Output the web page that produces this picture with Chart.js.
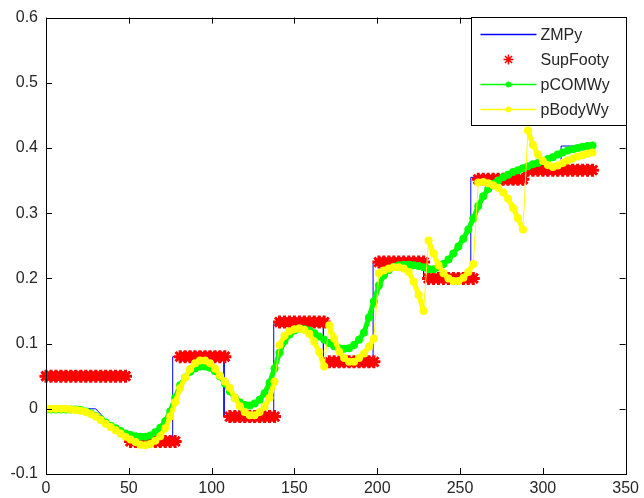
<!DOCTYPE html>
<html>
<head>
<meta charset="utf-8">
<title>ZMP / CoM</title>
<script src="https://cdn.jsdelivr.net/npm/chart.js@4.4.1/dist/chart.umd.min.js"></script>
<style>
  body { margin: 0; background: #fff; }
  #wrap { width: 644px; height: 498px; }
</style>
</head>
<body>
<div id="wrap"><canvas id="myChart" width="644" height="498"></canvas></div>
<script>
// sample index (x axis)
const steps = [
  0, 3, 6, 9, 12, 15, 18, 21, 24, 27, 30, 33, 36, 39, 42, 45, 48,
  51, 54, 57, 60, 63, 66, 69, 72, 75, 78,
  81, 84, 87, 90, 93, 96, 99, 102, 105, 108,
  111, 114, 117, 120, 123, 126, 129, 132, 135, 138,
  141, 144, 147, 150, 153, 156, 159, 162, 165, 168,
  171, 174, 177, 180, 183, 186, 189, 192, 195, 198,
  201, 204, 207, 210, 213, 216, 219, 222, 225, 228,
  231, 234, 237, 240, 243, 246, 249, 252, 255, 258,
  261, 264, 267, 270, 273, 276, 279, 282, 285, 288,
  291, 294, 297, 300, 303, 306, 309, 312, 315, 318, 321, 324, 327, 330
];

// support foot y position
const supFooty = [
  0.05, 0.05, 0.05, 0.05, 0.05, 0.05, 0.05, 0.05, 0.05, 0.05, 0.05, 0.05, 0.05, 0.05, 0.05, 0.05, 0.05,
  -0.05, -0.05, -0.05, -0.05, -0.05, -0.05, -0.05, -0.05, -0.05, -0.05,
  0.08, 0.08, 0.08, 0.08, 0.08, 0.08, 0.08, 0.08, 0.08, 0.08,
  -0.012, -0.012, -0.012, -0.012, -0.012, -0.012, -0.012, -0.012, -0.012, -0.012,
  0.133, 0.133, 0.133, 0.133, 0.133, 0.133, 0.133, 0.133, 0.133, 0.133,
  0.072, 0.072, 0.072, 0.072, 0.072, 0.072, 0.072, 0.072, 0.072, 0.072,
  0.225, 0.225, 0.225, 0.225, 0.225, 0.225, 0.225, 0.225, 0.225, 0.225,
  0.2, 0.2, 0.2, 0.2, 0.2, 0.2, 0.2, 0.2, 0.2, 0.2,
  0.352, 0.352, 0.352, 0.352, 0.352, 0.352, 0.352, 0.352, 0.352, 0.352,
  0.366, 0.366, 0.366, 0.366, 0.366, 0.366, 0.366, 0.366, 0.366, 0.366, 0.366, 0.366, 0.366, 0.366
];

const pCOMWy = [
  -0.001, -0.001, -0.001, -0.001, -0.001, -0.001, -0.001, -0.002, -0.004, -0.007, -0.011, -0.016, -0.021, -0.026, -0.030, -0.034, -0.038,
  -0.040, -0.042, -0.043, -0.043, -0.041, -0.036, -0.029, -0.019, -0.004, 0.017,
  0.036, 0.048, 0.057, 0.062, 0.065, 0.065, 0.063, 0.058, 0.050, 0.039,
  0.027, 0.017, 0.010, 0.006, 0.005, 0.008, 0.014, 0.024, 0.040, 0.062,
  0.086, 0.104, 0.114, 0.120, 0.123, 0.122, 0.120, 0.116, 0.111, 0.106,
  0.101, 0.096, 0.093, 0.092, 0.093, 0.098, 0.106, 0.117, 0.140, 0.165,
  0.189, 0.205, 0.213, 0.218, 0.220, 0.221, 0.221, 0.220, 0.219, 0.217,
  0.214, 0.214, 0.217, 0.222, 0.229, 0.238, 0.249, 0.261, 0.275, 0.292,
  0.311, 0.326, 0.337, 0.345, 0.350, 0.355, 0.359, 0.363, 0.366, 0.369,
  0.372, 0.375, 0.377, 0.380, 0.383, 0.386, 0.390, 0.393, 0.396, 0.398, 0.400, 0.402, 0.403, 0.404
];

const pBodyWy = [
  0.000, 0.000, 0.000, 0.000, 0.000, -0.001, -0.002, -0.003, -0.005, -0.008, -0.012, -0.017, -0.023, -0.028, -0.033, -0.038, -0.043,
  -0.047, -0.051, -0.055, -0.056, -0.054, -0.049, -0.042, -0.030, -0.012, 0.010,
  0.032, 0.048, 0.061, 0.070, 0.074, 0.074, 0.070, 0.062, 0.051, 0.042,
  0.032, 0.017, 0.004, -0.005, -0.010, -0.010, -0.005, 0.003, 0.017, 0.042,
  0.098, 0.112, 0.119, 0.122, 0.123, 0.121, 0.115, 0.103, 0.087, 0.065,
  0.128, 0.108, 0.088, 0.078, 0.072, 0.072, 0.078, 0.085, 0.095, 0.108,
  0.208, 0.212, 0.215, 0.217, 0.217, 0.215, 0.210, 0.195, 0.175, 0.150,
  0.258, 0.238, 0.220, 0.208, 0.200, 0.196, 0.196, 0.201, 0.210, 0.222,
  0.347, 0.348, 0.346, 0.343, 0.339, 0.332, 0.322, 0.308, 0.292, 0.275,
  0.427, 0.405, 0.390, 0.380, 0.374, 0.371, 0.373, 0.377, 0.381, 0.384, 0.387, 0.389, 0.391, 0.393
];

// ZMP reference (step corners)
const zmpX = [0, 30, 33, 36, 40, 45, 50, 55, 60, 70, 76.5, 76.5, 107.5, 107.5, 137.5, 137.5, 167.5, 167.5,
  197.5, 197.5, 228, 228, 256.5, 256.5, 288.5, 288.5, 311, 311, 330];
const zmpY = [0, 0, -0.008, -0.017, -0.025, -0.033, -0.039, -0.044, -0.046, -0.047, -0.047, 0.08, 0.08, -0.012,
  -0.012, 0.13, 0.13, 0.072, 0.072, 0.224, 0.224, 0.2, 0.2, 0.355, 0.355, 0.365, 0.365, 0.403, 0.403];

const xTicks = [0, 50, 100, 150, 200, 250, 300, 350];
const yTicks = [-0.1, 0, 0.1, 0.2, 0.3, 0.4, 0.5, 0.6];

const FONT = "'Liberation Sans', Arial, sans-serif";
const TEXT = '#262626';

function pairs(xs, ys) {
  return ys.map((y, i) => ({ x: xs[i], y: y }));
}

// dense marker band, but jumps between samples stay a thin line
function bandWidth(c) {
  return Math.abs(c.p1.parsed.y - c.p0.parsed.y) > 0.04 ? 1 : 5;
}

// box, inward ticks and legend like the matlab figure
const matlabAxes = {
  id: 'matlabAxes',
  afterDraw(chart) {
    const ctx = chart.ctx;
    const a = chart.chartArea;
    const xs = chart.scales.x;
    const ys = chart.scales.y;
    ctx.save();
    ctx.strokeStyle = '#000';
    ctx.lineWidth = 1;
    ctx.beginPath();
    xTicks.forEach(v => {
      const px = Math.round(xs.getPixelForValue(v)) + 0.5;
      ctx.moveTo(px, a.bottom); ctx.lineTo(px, a.bottom - 6);
      ctx.moveTo(px, a.top); ctx.lineTo(px, a.top + 6);
    });
    yTicks.forEach(v => {
      const py = Math.round(ys.getPixelForValue(v)) + 0.5;
      ctx.moveTo(a.left, py); ctx.lineTo(a.left + 6, py);
      ctx.moveTo(a.right, py); ctx.lineTo(a.right - 6, py);
    });
    ctx.stroke();
    ctx.strokeRect(Math.round(a.left) + 0.5, Math.round(a.top) + 0.5,
      Math.round(a.right - a.left), Math.round(a.bottom - a.top));

    // legend
    const bw = 155, bh = 108;
    const bx = Math.round(a.right) - bw + 0.5, by = Math.round(a.top) - 0.5;
    ctx.fillStyle = '#fff';
    ctx.fillRect(bx, by, bw, bh);
    ctx.strokeRect(bx, by, bw, bh);
    ctx.font = '16px ' + FONT;
    ctx.textBaseline = 'middle';
    chart.data.datasets.forEach((ds, i) => {
      const cy = by + 17 + i * 25;
      const x0 = bx + 9, x1 = bx + 65, xm = (x0 + x1) / 2;
      ctx.strokeStyle = ds.borderColor;
      ctx.fillStyle = ds.borderColor;
      if (ds.showLine !== false) {
        ctx.lineWidth = 1.5;
        ctx.beginPath();
        ctx.moveTo(x0, cy); ctx.lineTo(x1, cy);
        ctx.stroke();
      }
      if (ds.pointRadius > 0) {
        ctx.lineWidth = ds.pointStyle === 'star' ? 1.5 : 1;
        Chart.helpers.drawPoint(ctx, {
          pointStyle: ds.pointStyle,
          radius: ds.pointStyle === 'star' ? 5 : 2.5,
          borderWidth: ctx.lineWidth,
          rotation: 0
        }, xm, cy);
      }
      ctx.fillStyle = TEXT;
      ctx.fillText(ds.label, bx + 69, cy + 1);
    });
    ctx.restore();
  }
};

const ctx = document.getElementById('myChart').getContext('2d');
new Chart(ctx, {
  type: 'scatter',
  data: {
    datasets: [
      {
        label: 'ZMPy',
        data: pairs(zmpX, zmpY),
        showLine: true,
        borderColor: '#0000ff',
        backgroundColor: '#0000ff',
        borderWidth: 1,
        pointRadius: 0,
        order: 4
      },
      {
        label: 'SupFooty',
        data: pairs(steps, supFooty),
        showLine: false,
        borderColor: '#ff0000',
        backgroundColor: '#ff0000',
        pointStyle: 'star',
        pointRadius: 6.5,
        pointBorderWidth: 3,
        clip: false,
        order: 3
      },
      {
        label: 'pCOMWy',
        data: pairs(steps, pCOMWy),
        showLine: true,
        borderColor: '#00ff00',
        backgroundColor: '#00ff00',
        borderWidth: 5,
        segment: { borderWidth: bandWidth },
        pointStyle: 'circle',
        pointRadius: 4,
        pointBorderWidth: 0,
        order: 2
      },
      {
        label: 'pBodyWy',
        data: pairs(steps, pBodyWy),
        showLine: true,
        borderColor: '#ffff00',
        backgroundColor: '#ffff00',
        borderWidth: 5,
        segment: { borderWidth: bandWidth },
        pointStyle: 'circle',
        pointRadius: 4,
        pointBorderWidth: 0,
        order: 1
      }
    ]
  },
  options: {
    responsive: false,
    animation: false,
    layout: { padding: { left: 0, top: 16, right: 15, bottom: 0 } },
    plugins: {
      legend: { display: false },
      tooltip: { enabled: false }
    },
    scales: {
      x: {
        type: 'linear',
        min: 0, max: 350,
        afterFit: s => { s.height = 24; },
        afterBuildTicks: s => { s.ticks = xTicks.map(v => ({ value: v })); },
        grid: { display: false, drawTicks: false },
        border: { display: false },
        ticks: { padding: 5, color: TEXT, font: { family: FONT, size: 16 }, maxRotation: 0 }
      },
      y: {
        type: 'linear',
        min: -0.1, max: 0.6,
        afterFit: s => { s.width = 46; },
        afterBuildTicks: s => { s.ticks = yTicks.map(v => ({ value: v })); },
        grid: { display: false, drawTicks: false },
        border: { display: false },
        ticks: {
          padding: 8, color: TEXT, font: { family: FONT, size: 16 },
          callback: v => String(Number(v.toFixed(2)))
        }
      }
    }
  },
  plugins: [matlabAxes]
});
</script>
</body>
</html>
